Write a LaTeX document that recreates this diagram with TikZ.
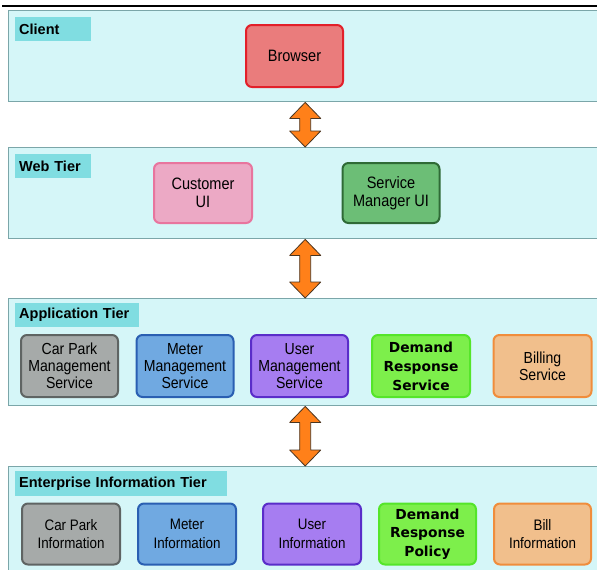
\documentclass[tikz,border=0pt]{standalone}
\usepackage{fontspec}
\setmainfont{Liberation Sans}
\newfontfamily\boxfont{Liberation Sans}[FakeStretch=0.88]
\newfontfamily\drfont{DejaVu Sans}
\usetikzlibrary{calc}

\definecolor{panelfill}{HTML}{D5F6F8}
\definecolor{paneledge}{HTML}{7BA6A9}
\definecolor{tagfill}{HTML}{80DDE1}
\definecolor{linkfill}{HTML}{FF8019}
\definecolor{linkedge}{HTML}{4A3520}
\definecolor{redfill}{HTML}{EA7C7C}\definecolor{rededge}{HTML}{E2202A}
\definecolor{pinkfill}{HTML}{ECA9C5}\definecolor{pinkedge}{HTML}{E8759E}
\definecolor{dgreenfill}{HTML}{6CBE76}\definecolor{dgreenedge}{HTML}{2F6A36}
\definecolor{grayfill}{HTML}{A6AAA9}\definecolor{grayedge}{HTML}{5F6463}
\definecolor{bluefill}{HTML}{70A9E1}\definecolor{blueedge}{HTML}{2A5FB2}
\definecolor{purplefill}{HTML}{A67DF1}\definecolor{purpleedge}{HTML}{5A2DC9}
\definecolor{lgreenfill}{HTML}{7DEF4B}\definecolor{lgreenedge}{HTML}{55E52A}
\definecolor{orangefill}{HTML}{F1BF8C}\definecolor{orangeedge}{HTML}{F08D3C}

% double-headed link between two stacked tiers
\newcommand\tierlink[2]{%
  \filldraw[linkarrow] (#1.south) -- ($(#1.south)+(15.5,16)$) -- ($(#1.south)+(5.5,16)$)
    -- ($(#2.north)+(5.5,-16)$) -- ($(#2.north)+(15.5,-16)$) -- (#2.north)
    -- ($(#2.north)+(-15.5,-16)$) -- ($(#2.north)+(-5.5,-16)$)
    -- ($(#1.south)+(-5.5,16)$) -- ($(#1.south)+(-15.5,16)$) -- cycle;}

\begin{document}
\begin{tikzpicture}[x=1pt,y=-1pt,
  panel/.style={draw=paneledge, fill=panelfill, line width=1.4pt, anchor=north west,
    inner sep=0pt, minimum width=593pt},
  tiertag/.style={fill=tagfill, anchor=north west, inner xsep=4pt, inner ysep=0pt,
    minimum height=24pt, font=\fontsize{14.5}{16}\selectfont\bfseries, align=left},
  svc/.style={rounded corners=6pt, line width=2pt, inner sep=0pt, align=center,
    minimum width=97pt, minimum height=62pt},
  bigtxt/.style={font=\boxfont\fontsize{16.5}{18}\selectfont},
  midtxt/.style={font=\boxfont\fontsize{16}{17}\selectfont},
  lowtxt/.style={font=\boxfont\fontsize{15.2}{18.5}\selectfont},
  drtxt/.style={font=\drfont\bfseries\fontsize{13.8}{19}\selectfont},
  drlowtxt/.style={font=\drfont\bfseries\fontsize{13.8}{18.5}\selectfont},
  linkarrow/.style={fill=linkfill, draw=linkedge, line width=0.8pt, line join=round},
]
\useasboundingbox (0,0) rectangle (597,570);
\clip (0,0) rectangle (597,570);
\fill[white] (0,0) rectangle (597,570);
\draw[line width=1.6pt] (2,6) -- (600,6);

% tiers
\node[panel, minimum height=91pt] (client) at (8,10) {};
\node[panel, minimum height=91pt] (web) at (8,147) {};
\node[panel, minimum height=107pt] (app) at (8,298) {};
\node[panel, minimum height=120pt] (eit) at (8,466) {};

% tier names
\node[tiertag, text width=68pt] (clienttag) at (15,17) {Client};
\node[tiertag, text width=68pt] (webtag) at (15,154) {Web Tier};
\node[tiertag, text width=116pt] (apptag) at (15,303) {Application Tier};
\node[tiertag, text width=204pt, minimum height=25pt] (eittag) at (15,471) {Enterprise Information Tier};

% client tier
\node[svc, bigtxt, fill=redfill, draw=rededge] (browser) at (294.5,56) {Browser};

% web tier
\node[svc, bigtxt, fill=pinkfill, draw=pinkedge, minimum width=98pt, minimum height=60pt] (custui) at (203,193) {Customer\\UI};
\node[svc, bigtxt, fill=dgreenfill, draw=dgreenedge, minimum height=60pt] (smui) at (391,193) {Service\\Manager UI};

% application tier
\node[svc, midtxt, fill=grayfill, draw=grayedge] (cpms) at (69.5,366) {Car Park\\Management\\Service};
\node[svc, midtxt, fill=bluefill, draw=blueedge] (mms) at (185,366) {Meter\\Management\\Service};
\node[svc, midtxt, fill=purplefill, draw=purpleedge] (ums) at (299.5,366) {User\\Management\\Service};
\node[svc, drtxt, fill=lgreenfill, draw=lgreenedge, minimum width=98pt] (drs) at (421,366) {Demand\\Response\\Service};
\node[svc, midtxt, fill=orangefill, draw=orangeedge, minimum width=98pt] (bs) at (542.5,366) {Billing\\Service};

% enterprise information tier
\node[svc, lowtxt, fill=grayfill, draw=grayedge, minimum width=98pt, minimum height=61pt] (cpi) at (71,534) {Car Park\\Information};
\node[svc, lowtxt, fill=bluefill, draw=blueedge, minimum width=98pt, minimum height=61pt] (mi) at (187,534) {Meter\\Information};
\node[svc, lowtxt, fill=purplefill, draw=purpleedge, minimum width=98pt, minimum height=61pt] (ui) at (312,534) {User\\Information};
\node[svc, drlowtxt, fill=lgreenfill, draw=lgreenedge, minimum width=97pt, minimum height=61pt] (drp) at (427.5,534) {Demand\\Response\\Policy};
\node[svc, lowtxt, fill=orangefill, draw=orangeedge, minimum height=61pt] (bi) at (542.5,534) {Bill\\Information};

% links between tiers
\tierlink{client}{web}
\tierlink{web}{app}
\tierlink{app}{eit}
\end{tikzpicture}
\end{document}
